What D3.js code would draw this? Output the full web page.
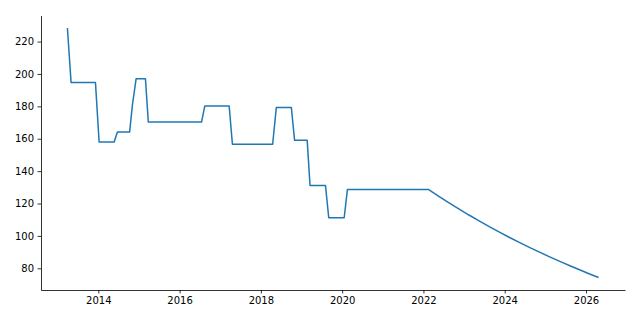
<!DOCTYPE html>
<html><head><meta charset="utf-8">
<script src="https://cdn.jsdelivr.net/npm/d3@7"></script>
<style>body{margin:0;background:#fff}svg{display:block}text{font-family:"DejaVu Sans",sans-serif;font-size:10px;fill:#000}</style>
</head><body><svg id="c" width="640" height="320"></svg>
<script>
// decimal years and values
const years = [2013.24,2013.33,2013.93,2014.02,2014.39,2014.47,2014.77,2014.84,2014.93,2015.16,2015.23,2016.54,2016.62,2017.22,2017.30,2018.29,2018.38,2018.75,2018.83,2019.14,2019.21,2019.59,2019.67,2020.05,2020.13,
  2022.12,2022.37,2022.62,2022.87,2023.12,2023.37,2023.62,2023.87,2024.12,2024.37,2024.62,2024.87,2025.12,2025.37,2025.62,2025.87,2026.12,2026.31];
const values = [228.4,194.7,194.7,158.0,158.0,164.1,164.1,181.0,197.0,197.0,170.3,170.3,180.2,180.2,156.6,156.6,179.3,179.3,159.0,159.0,131.1,131.1,111.2,111.2,128.7,
  128.7,124.5,120.5,116.7,112.9,109.3,105.7,102.3,99.0,95.9,92.8,89.8,86.9,84.1,81.4,78.8,76.2,74.3];
const xTicks = [2014,2016,2018,2020,2022,2024,2026];
const yTicks = [80,100,120,140,160,180,200,220];

const svg = d3.select("#c");
const L=41, R=625, T=15.5, B=290;
const x = d3.scaleLinear().domain([2012.59,2026.96]).range([L,R]);
const y = d3.scaleLinear().domain([66.6,236.1]).range([B,T]);
const data = years.map((d,i)=>({x:d,y:values[i]}));

svg.append("path").datum(data)
  .attr("fill","none").attr("stroke","#1f77b4").attr("stroke-width",1.5)
  .attr("stroke-linejoin","round").attr("stroke-linecap","butt")
  .attr("d", d3.line().x(d=>x(d.x)).y(d=>y(d.y)));

const xa = svg.append("g").attr("transform",`translate(0,${B})`)
  .call(d3.axisBottom(x).tickValues(xTicks).tickFormat(d3.format("d")).tickSize(3.5).tickPadding(3.5).tickSizeOuter(0));
const ya = svg.append("g").attr("transform",`translate(${L},0)`)
  .call(d3.axisLeft(y).tickValues(yTicks).tickSize(3.5).tickPadding(3.5).tickSizeOuter(0));
[xa,ya].forEach(g=>{
  g.select(".domain").attr("stroke","#000").attr("stroke-width",0.8);
  g.selectAll(".tick line").attr("stroke","#000").attr("stroke-width",0.8);
  g.selectAll("text").attr("font-family",null).attr("font-size",null).attr("fill","#000");
});
</script></body></html>
